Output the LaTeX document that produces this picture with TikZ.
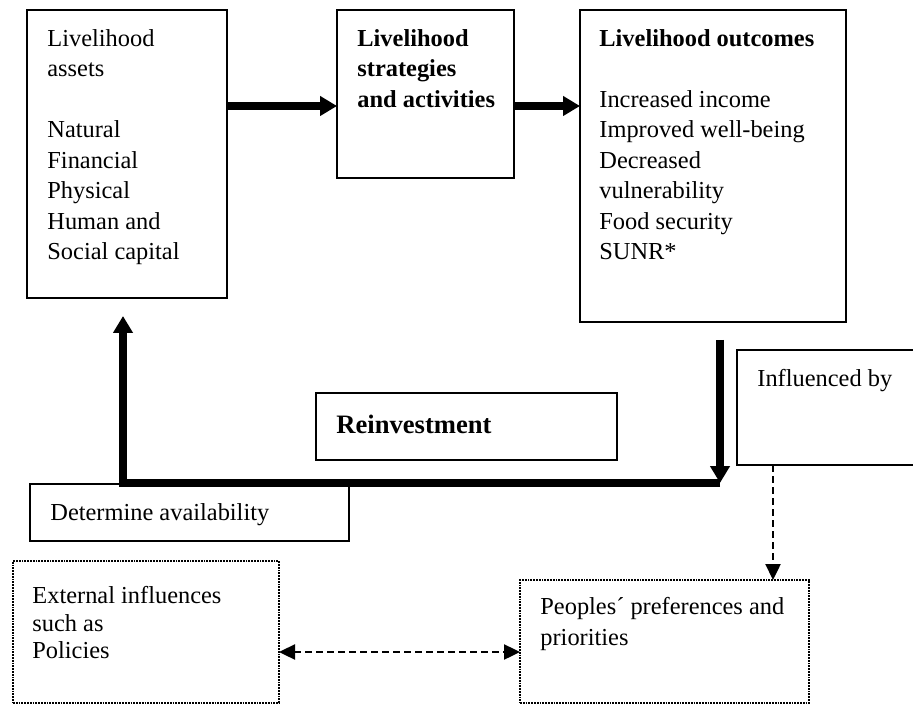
\documentclass[tikz,border=0pt]{standalone}
\usepackage{fontspec}
\setmainfont{Liberation Serif}
\usepackage{tikz}
\usetikzlibrary{arrows.meta,calc,positioning}

\begin{document}
\begin{tikzpicture}[x=0.5pt,y=-0.5pt,
    box/.style={draw, line width=0.75pt, inner sep=0pt, outer sep=0pt, anchor=north west},
    dotbox/.style={box, line width=1.1pt, dash pattern=on 0.9pt off 0.5pt},
    txt/.style={anchor=north west, inner sep=0pt, align=left, font=\fontsize{12.2}{15.25}\selectfont},
    bigarrow/.style={line width=3.6pt, -{Triangle[length=8.5pt,width=9.5pt]}},
    dasharrow/.style={line width=1.2pt, dash pattern=on 3.5pt off 2pt, -{Triangle[length=8pt,width=7.5pt]}}]
    \useasboundingbox (0,0) rectangle (913,704);

    % boxes
    \node[box, minimum width=100pt, minimum height=144pt] (assets) at (27,10) {};
    \node[box, minimum width=88.5pt, minimum height=84pt] (strat) at (337,10) {};
    \node[box, minimum width=133pt, minimum height=156pt] (outc) at (580,10) {};
    \node[box, minimum width=89.5pt, minimum height=57.5pt] (infl) at (737,350) {};
    \node[box, minimum width=150.5pt, minimum height=33.5pt] (reinv) at (316,393) {};
    \node[box, minimum width=159.5pt, minimum height=28.5pt] (avail) at (30,484) {};
    \node[dotbox, minimum width=133pt, minimum height=71pt] (extern) at (13,561) {};
    \node[dotbox, minimum width=144.5pt, minimum height=61.5pt] (people) at (520,580) {};

    % texts
    \node[txt] (assetstxt) at ($(assets.north west)+(20,19)$) {Livelihood\\assets\\ \\Natural\\Financial\\Physical\\Human and\\Social capital};
    \node[txt, font=\fontsize{12.2}{15.25}\selectfont\bfseries] (strattxt) at ($(strat.north west)+(20,19)$) {Livelihood\\strategies\\and activities};
    \node[txt] (outctxt) at ($(outc.north west)+(19,19)$) {\textbf{Livelihood outcomes}\\ \\Increased income\\Improved well-being\\Decreased\\vulnerability\\Food security\\SUNR*};
    \node[txt] (infltxt) at ($(infl.north west)+(20,19)$) {Influenced by};
    \node[txt, font=\fontsize{13.3}{16}\selectfont\bfseries] (reinvtxt) at ($(reinv.north west)+(20,22)$) {Reinvestment};
    \node[txt] (availtxt) at ($(avail.north west)+(20,19)$) {Determine availability};
    \node[txt, font=\fontsize{12.2}{13.75}\selectfont] (externtxt) at ($(extern.north west)+(19,25)$) {External influences\\such as\\Policies};
    \node[txt] (peopletxt) at ($(people.north west)+(20,17)$) {Peoples´ preferences and\\priorities};

    % connectors
    \coordinate (row) at (0,106);
    \coordinate (dn) at (720,340);
    \coordinate (turn) at (720,483);
    \coordinate (uptip) at (123,316);
    \coordinate (dx) at (773,0);
    \coordinate (dy) at (0,652);
    \draw[bigarrow] (assets.east |- row) -- (strat.west |- row);
    \draw[bigarrow] (strat.east |- row) -- (outc.west |- row);
    \draw[bigarrow] (dn) -- (turn);
    \draw[bigarrow] (turn) -| (uptip); % reinvestment loop
    \draw[dasharrow] (infl.south -| dx) -- (people.north -| dx);
    \draw[dasharrow, {Triangle[length=8pt,width=7.5pt]}-{Triangle[length=8pt,width=7.5pt]}] (extern.east |- dy) -- (people.west |- dy);
\end{tikzpicture}
\end{document}
